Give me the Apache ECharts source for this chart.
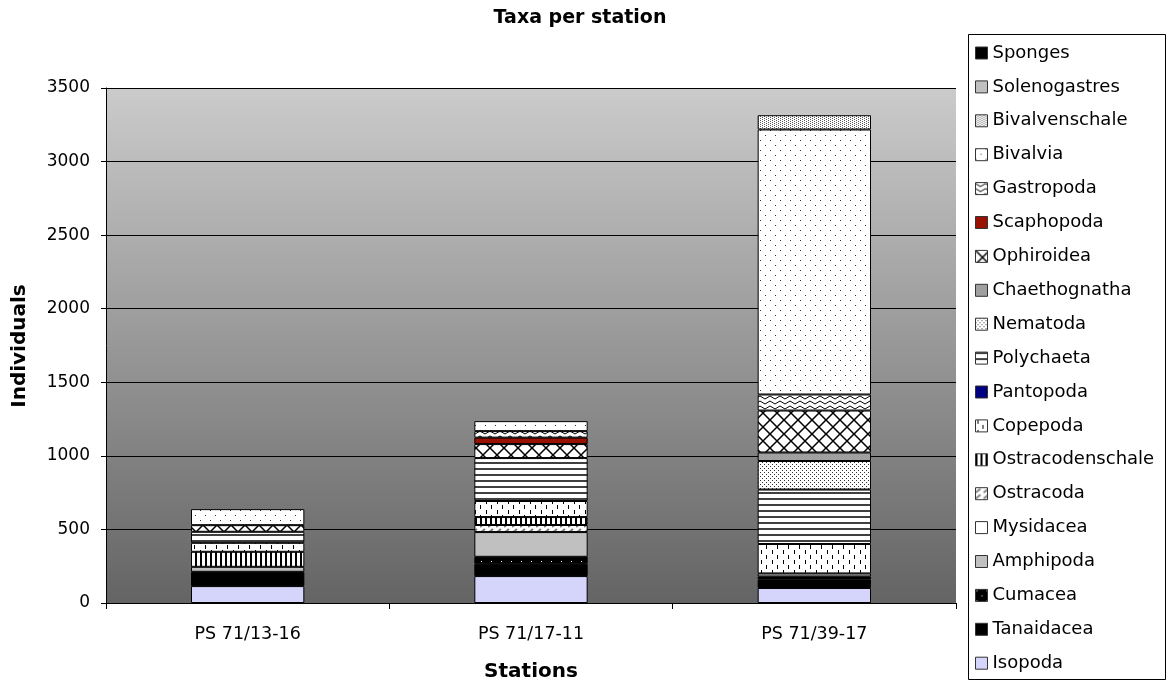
<!DOCTYPE html>
<html>
<head>
<meta charset="utf-8">
<script src="https://cdn.jsdelivr.net/npm/echarts@6/dist/echarts.min.js"></script>
<style>
html,body{margin:0;padding:0;background:#fff;}
#chart{width:1168px;height:684px;}
</style>
</head>
<body>
<div id="chart"></div>
<script>
// ---- data (stack order: bottom to top) ----
var categories = ['PS 71/13-16', 'PS 71/17-11', 'PS 71/39-17'];
var Isopoda          = [115, 183, 102];
var Tanaidacea       = [97, 84, 58];
var Cumacea          = [0, 47, 20];
var Amphipoda        = [34, 168, 21];
var Mysidacea        = [0, 0, 0];
var Ostracoda        = [0, 48, 0];
var Ostracodenschale = [102, 54, 0];
var Copepoda         = [61, 109, 200];
var Pantopoda        = [0, 0, 0];
var Polychaeta       = [75, 292, 370];
var Nematoda         = [0, 0, 194];
var Chaethognatha    = [0, 0, 58];
var Ophiroidea       = [45, 95, 285];
var Scaphopoda       = [0, 44, 0];
var Gastropoda       = [0, 44, 109];
var Bivalvia         = [109, 68, 1801];
var Bivalvenschale   = [0, 0, 97];
var Solenogastres    = [0, 0, 0];
var Sponges          = [0, 0, 0];
var yTicks = [0, 500, 1000, 1500, 2000, 2500, 3000, 3500];

// ---- fill patterns ----
function pat(w, h, bg, draw) {
  var c = document.createElement('canvas');
  c.width = w; c.height = h;
  var g = c.getContext('2d');
  g.fillStyle = bg; g.fillRect(0, 0, w, h);
  draw(g);
  return { image: c, repeat: 'repeat' };
}
function dots(g, pts, col, s) { g.fillStyle = col; pts.forEach(function (p) { g.fillRect(p[0], p[1], s || 1, s || 1); }); }

var fills = {
  Isopoda: '#d5d5fb',
  Tanaidacea: '#000000',
  Cumacea: pat(10, 10, '#000', function (g) { dots(g, [[1, 1], [6, 6]], '#fff', 1); }),
  Amphipoda: '#c0c0c0',
  Mysidacea: '#ffffff',
  Ostracoda: pat(8, 6, '#ffffff', function (g) {
    g.strokeStyle = '#808080'; g.lineWidth = 2;
    g.beginPath(); g.moveTo(0, 5); g.lineTo(5, 1); g.stroke();
  }),
  Ostracodenschale: pat(5, 4, '#ffffff', function (g) { g.fillStyle = '#000'; g.fillRect(0, 0, 2, 4); }),
  Copepoda: pat(11, 10, '#ffffff', function (g) {
    g.fillStyle = '#000'; g.fillRect(2, 0, 1, 4); g.fillRect(7, 5, 1, 4);
  }),
  Pantopoda: '#000080',
  Polychaeta: pat(4, 6, '#ffffff', function (g) { g.fillStyle = '#404040'; g.fillRect(0, 0, 4, 2); }),
  Nematoda: pat(4, 4, '#ffffff', function (g) { dots(g, [[0, 0], [2, 2]], '#333', 1); }),
  Chaethognatha: '#a0a0a0',
  Ophiroidea: pat(14, 14, '#ffffff', function (g) {
    g.strokeStyle = '#000'; g.lineWidth = 1.5;
    g.beginPath();
    g.moveTo(-1, -1); g.lineTo(15, 15);
    g.moveTo(15, -1); g.lineTo(-1, 15);
    g.stroke();
  }),
  Scaphopoda: '#991100',
  Gastropoda: pat(10, 5, '#ffffff', function (g) {
    g.strokeStyle = '#000'; g.lineWidth = 1;
    g.beginPath(); g.moveTo(0, 1); g.lineTo(5, 4); g.lineTo(10, 1); g.stroke();
  }),
  Bivalvia: pat(10, 10, '#ffffff', function (g) { dots(g, [[0, 0], [5, 5]], '#303030', 1); }),
  Bivalvenschale: pat(4, 2, '#ffffff', function (g) { dots(g, [[0, 0], [2, 1]], '#555', 1); }),
  Solenogastres: '#c0c0c0',
  Sponges: '#000000'
};

var seriesDefs = [
  ['Isopoda', Isopoda], ['Tanaidacea', Tanaidacea], ['Cumacea', Cumacea], ['Amphipoda', Amphipoda],
  ['Mysidacea', Mysidacea], ['Ostracoda', Ostracoda], ['Ostracodenschale', Ostracodenschale],
  ['Copepoda', Copepoda], ['Pantopoda', Pantopoda], ['Polychaeta', Polychaeta], ['Nematoda', Nematoda],
  ['Chaethognatha', Chaethognatha], ['Ophiroidea', Ophiroidea], ['Scaphopoda', Scaphopoda],
  ['Gastropoda', Gastropoda], ['Bivalvia', Bivalvia], ['Bivalvenschale', Bivalvenschale],
  ['Solenogastres', Solenogastres], ['Sponges', Sponges]
];

var series = seriesDefs.map(function (d) {
  return {
    name: d[0],
    type: 'bar',
    stack: 'taxa',
    barWidth: '40%',
    data: d[1].map(function (v) { return v === 0 ? null : v; }),
    itemStyle: { color: fills[d[0]], borderColor: '#000', borderWidth: 1 },
    emphasis: { disabled: true }
  };
});

var legendNames = seriesDefs.map(function (d) { return d[0]; }).reverse();

var FONT = 'DejaVu Sans';
var chart = echarts.init(document.getElementById('chart'), null, { renderer: 'canvas' });
chart.setOption({
  animation: false,
  backgroundColor: '#ffffff',
  grid: {
    left: 106, right: 212, top: 88, bottom: 81,
    show: true, borderWidth: 0,
    backgroundColor: new echarts.graphic.LinearGradient(0, 0, 0, 1, [
      { offset: 0, color: '#cbcbcb' }, { offset: 1, color: '#646464' }
    ])
  },
  graphic: [
    { type: 'rect', z: 0, shape: { x: 968.5, y: 34.5, width: 197, height: 645 },
      style: { fill: '#fff', stroke: '#000', lineWidth: 1 } },
    { type: 'text', z: 10, x: 580, y: 9,
      style: { text: 'Taxa per station', font: 'bold 19px "DejaVu Sans"', fill: '#000', align: 'center', verticalAlign: 'top' } },
    { type: 'text', z: 10, x: 531, y: 672,
      style: { text: 'Stations', font: 'bold 20px "DejaVu Sans"', fill: '#000', align: 'center', verticalAlign: 'middle' } },
    { type: 'text', z: 10, x: 20, y: 346, rotation: Math.PI / 2,
      style: { text: 'Individuals', font: 'bold 20px "DejaVu Sans"', fill: '#000', align: 'center', verticalAlign: 'middle' } }
  ],
  legend: {
    orient: 'vertical',
    left: 975, top: 44,
    padding: 0,
    itemWidth: 12, itemHeight: 12,
    itemGap: 15.9,
    icon: 'rect',
    selectedMode: false,
    data: legendNames,
    itemStyle: { borderWidth: 1, borderColor: '#333' },
    textStyle: { fontFamily: FONT, fontSize: 18, color: '#000', lineHeight: 18 }
  },
  xAxis: {
    type: 'category',
    data: categories,
    axisLine: { lineStyle: { color: '#000', width: 1 } },
    axisTick: { show: true, length: 6, lineStyle: { color: '#000' } },
    axisLabel: { fontFamily: FONT, fontSize: 17.5, color: '#000', margin: 22 }
  },
  yAxis: {
    type: 'value',
    min: yTicks[0], max: yTicks[yTicks.length - 1], interval: yTicks[1] - yTicks[0],
    axisLine: { show: true, lineStyle: { color: '#000', width: 1 } },
    axisTick: { show: true, length: 5, lineStyle: { color: '#000' } },
    axisLabel: { fontFamily: FONT, fontSize: 17, color: '#000', margin: 16,
      formatter: function (v) { return String(v); } },
    splitLine: { show: true, lineStyle: { color: '#000', width: 1 } }
  },
  series: series
});
</script>
</body>
</html>
